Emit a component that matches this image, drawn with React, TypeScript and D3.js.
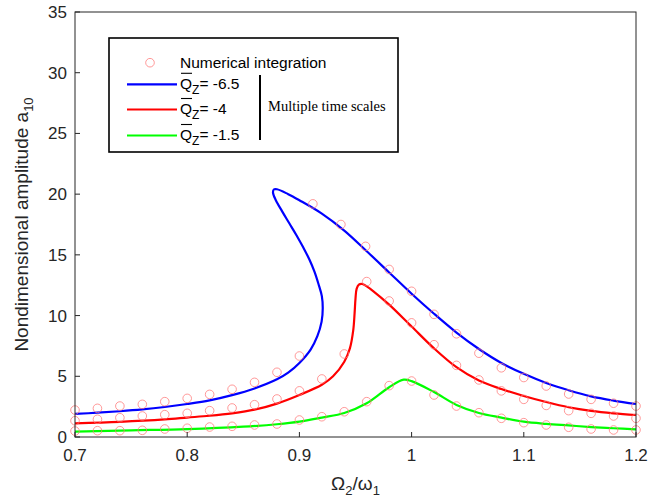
import React from "react";
import * as d3 from "d3";

// ---- data ----
const xTicks = [0.7, 0.8, 0.9, 1.0, 1.1, 1.2];
const xTickLabels = ["0.7", "0.8", "0.9", "1", "1.1", "1.2"];
const yTicks = [0, 5, 10, 15, 20, 25, 30, 35];

// Multiple time scales curves (f, a) in path order
const blueCurve: [number, number][] = [
  [0.70, 1.9], [0.72, 2.0], [0.74, 2.12], [0.76, 2.27], [0.78, 2.47], [0.80, 2.72],
  [0.82, 3.02], [0.84, 3.45], [0.86, 4.0], [0.88, 4.75], [0.89, 5.3], [0.90, 6.1],
  [0.91, 7.2], [0.916, 8.3], [0.9198, 9.5], [0.9208, 10.6], [0.9200, 11.6],
  [0.917, 12.6], [0.9135, 13.6], [0.909, 14.6], [0.9035, 15.6], [0.8975, 16.6],
  [0.891, 17.6], [0.8845, 18.6], [0.879, 19.5], [0.8765, 20.1], [0.8772, 20.38],
  [0.880, 20.4], [0.89, 20.0], [0.90, 19.5],
  [0.92, 18.4], [0.94, 17.0], [0.96, 15.3], [0.98, 13.55], [1.00, 11.8], [1.02, 10.15],
  [1.04, 8.6], [1.06, 7.25], [1.08, 6.1], [1.10, 5.2], [1.12, 4.45], [1.14, 3.85],
  [1.16, 3.35], [1.18, 3.0], [1.20, 2.72],
];
const redCurve: [number, number][] = [
  [0.70, 1.13], [0.74, 1.25], [0.78, 1.45], [0.80, 1.6], [0.82, 1.75], [0.84, 1.95],
  [0.86, 2.25], [0.88, 2.75], [0.90, 3.46], [0.92, 4.3], [0.93, 5.0], [0.94, 6.2],
  [0.945, 7.3], [0.948, 8.8], [0.9492, 10.2], [0.950, 11.4], [0.951, 12.2],
  [0.953, 12.55], [0.956, 12.6], [0.96, 12.4], [0.966, 12.0], [0.98, 10.9],
  [1.00, 9.1], [1.02, 7.3], [1.04, 5.75], [1.06, 4.65], [1.08, 3.95], [1.10, 3.38],
  [1.12, 2.88], [1.14, 2.45], [1.16, 2.15], [1.18, 1.95], [1.20, 1.81],
];
const greenCurve: [number, number][] = [
  [0.70, 0.45], [0.75, 0.55], [0.80, 0.65], [0.85, 0.85], [0.88, 1.05], [0.90, 1.26],
  [0.92, 1.6], [0.94, 1.98], [0.96, 2.78], [0.98, 4.1], [0.993, 4.72], [1.00, 4.6],
  [1.02, 3.7], [1.04, 2.64], [1.06, 1.98], [1.08, 1.6], [1.10, 1.26], [1.12, 1.08],
  [1.14, 0.95], [1.16, 0.82], [1.18, 0.72], [1.20, 0.63],
];

// Numerical integration points
const blueNumeric: [number, number][] = [
  [0.70, 2.22], [0.72, 2.36], [0.74, 2.55], [0.76, 2.69], [0.78, 2.91], [0.80, 3.18],
  [0.82, 3.51], [0.84, 3.93], [0.86, 4.5], [0.88, 5.33], [0.90, 6.67], [0.912, 19.2],
  [0.937, 17.5], [0.959, 15.7], [0.98, 13.8], [1.00, 12.0], [1.02, 10.1], [1.04, 8.5],
  [1.06, 6.9], [1.08, 5.7], [1.10, 4.9], [1.12, 4.2], [1.14, 3.54], [1.16, 3.1],
  [1.18, 2.78], [1.20, 2.55],
];
const redNumeric: [number, number][] = [
  [0.70, 1.34], [0.72, 1.46], [0.74, 1.59], [0.76, 1.73], [0.78, 1.84], [0.80, 1.95],
  [0.82, 2.17], [0.84, 2.39], [0.86, 2.66], [0.88, 3.13], [0.90, 3.8], [0.92, 4.78],
  [0.94, 6.84], [0.96, 12.8], [0.98, 11.2], [1.00, 9.4], [1.02, 7.6], [1.04, 5.9],
  [1.06, 4.7], [1.08, 3.8], [1.10, 3.1], [1.12, 2.6], [1.14, 2.17], [1.16, 1.95],
  [1.18, 1.73], [1.20, 1.54],
];
const greenNumeric: [number, number][] = [
  [0.70, 0.49], [0.72, 0.52], [0.74, 0.52], [0.76, 0.55], [0.78, 0.66], [0.80, 0.72],
  [0.82, 0.82], [0.84, 0.88], [0.86, 0.99], [0.88, 1.07], [0.90, 1.4], [0.92, 1.67],
  [0.94, 2.08], [0.96, 2.91], [0.98, 4.23], [1.00, 4.61], [1.02, 3.46], [1.04, 2.55],
  [1.06, 2.0], [1.08, 1.54], [1.10, 1.18], [1.12, 0.99], [1.14, 0.8], [1.16, 0.66],
  [1.18, 0.58], [1.20, 0.58],
];

const seriesLabels = ["-6.5", "-4", "-1.5"];
const seriesColors = ["#0000ff", "#ff0000", "#00ff00"];

// ---- layout ----
const W = 661, H = 499;
const plot = { left: 75, right: 636, top: 12, bottom: 437 };
const SANS = "'Liberation Sans', Arial, Helvetica, sans-serif";
const SERIF = "'Liberation Serif', 'Times New Roman', serif";
const AXIS = "#262626";

export default function App() {
  const x = d3.scaleLinear().domain([0.7, 1.2]).range([plot.left, plot.right]);
  const y = d3.scaleLinear().domain([0, 35]).range([plot.bottom, plot.top]);
  const line = d3
    .line<[number, number]>()
    .x((d) => x(d[0]))
    .y((d) => y(d[1]))
    .curve(d3.curveCatmullRom.alpha(0.5));

  const curves = [blueCurve, redCurve, greenCurve];
  const numerics = [blueNumeric, redNumeric, greenNumeric];

  const lg = { x: 109, y: 38, w: 289, h: 114 };
  const rowY = [84.3, 109.5, 135.5];

  return (
    <svg
      width={W}
      height={H}
      viewBox={`0 0 ${W} ${H}`}
      style={{ position: "absolute", left: 0, top: 0, background: "#fff" }}
    >
      <rect x={0} y={0} width={W} height={H} fill="#fff" />
      <defs>
        <clipPath id="plotclip">
          <rect x={plot.left - 6} y={plot.top} width={plot.right - plot.left + 12} height={plot.bottom - plot.top + 6} />
        </clipPath>
      </defs>

      {/* curves */}
      <g clipPath="url(#plotclip)">
        {curves.map((c, i) => (
          <path key={i} d={line(c) || ""} fill="none" stroke={seriesColors[i]} strokeWidth={2.2} strokeLinejoin="round" />
        ))}
        {numerics.map((pts, i) =>
          pts.map((p, j) => (
            <circle key={`${i}-${j}`} cx={x(p[0])} cy={y(p[1])} r={4.3} fill="none" stroke="#ff7777" strokeOpacity={0.75} strokeWidth={1} />
          ))
        )}
      </g>

      {/* axes box */}
      <rect x={plot.left} y={plot.top} width={plot.right - plot.left} height={plot.bottom - plot.top} fill="none" stroke={AXIS} strokeWidth={1} />

      {/* x ticks */}
      {xTicks.map((t, i) => (
        <g key={`xt${i}`}>
          <line x1={x(t)} x2={x(t)} y1={plot.bottom} y2={plot.bottom - 5} stroke={AXIS} />
          <text x={x(t)} y={plot.bottom + 24} textAnchor="middle" fontFamily={SANS} fontSize={17} fill={AXIS}>
            {xTickLabels[i]}
          </text>
        </g>
      ))}
      {/* y ticks */}
      {yTicks.map((t, i) => (
        <g key={`yt${i}`}>
          <line x1={plot.left} x2={plot.left + 5} y1={y(t)} y2={y(t)} stroke={AXIS} />
          <text x={plot.left - 8} y={y(t) + 6} textAnchor="end" fontFamily={SANS} fontSize={17} fill={AXIS}>
            {t}
          </text>
        </g>
      ))}

      {/* x axis title */}
      <text x={(plot.left + plot.right) / 2} y={490} textAnchor="middle" fontFamily={SANS} fontSize={19} fill={AXIS}>
        Ω<tspan fontSize={13} dy={5}>2</tspan>
        <tspan dy={-5}>/ω</tspan>
        <tspan fontSize={13} dy={5}>1</tspan>
      </text>

      {/* y axis title */}
      <text
        transform={`translate(28, ${(plot.top + plot.bottom) / 2}) rotate(-90)`}
        textAnchor="middle"
        fontFamily={SANS}
        fontSize={19}
        fill={AXIS}
      >
        Nondimensional amplitude a<tspan fontSize={13} dy={5}>10</tspan>
      </text>

      {/* legend */}
      <rect x={lg.x} y={lg.y} width={lg.w} height={lg.h} fill="#fff" stroke="#000" strokeWidth={1.6} />
      <circle cx={150} cy={62.7} r={4.3} fill="none" stroke="#ff7777" strokeOpacity={0.75} strokeWidth={1} />
      <text x={180} y={67.7} fontFamily={SANS} fontSize={15.5} fill="#000">
        Numerical integration
      </text>
      {seriesLabels.map((lab, i) => (
        <g key={`lg${i}`}>
          <line x1={127} x2={177} y1={rowY[i]} y2={rowY[i]} stroke={seriesColors[i]} strokeWidth={2.2} />
          <line x1={181} x2={192} y1={rowY[i] - 11} y2={rowY[i] - 11} stroke="#000" strokeWidth={1.1} />
          <text x={180} y={rowY[i] + 4.5} fontFamily={SANS} fontSize={15.5} fill="#000">
            Q<tspan fontSize={12} dy={5}>Z</tspan>
            <tspan dy={-5}>= {lab}</tspan>
          </text>
        </g>
      ))}
      <line x1={260} x2={260} y1={75} y2={140} stroke="#000" strokeWidth={2} />
      <text x={268} y={110.5} fontFamily={SERIF} fontSize={14.5} fill="#000">
        Multiple time scales
      </text>
    </svg>
  );
}
